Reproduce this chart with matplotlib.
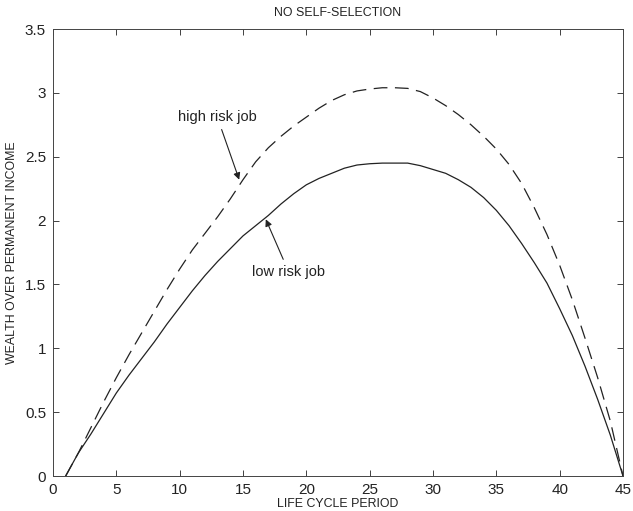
import matplotlib
matplotlib.use("Agg")
import matplotlib.pyplot as plt
import numpy as np

# ---- data ----
period = list(range(1, 46))
low_risk = [0.00, 0.18, 0.33, 0.49, 0.65, 0.79, 0.92, 1.05, 1.19, 1.32,
            1.45, 1.57, 1.68, 1.78, 1.88, 1.96, 2.04, 2.13, 2.21, 2.28,
            2.33, 2.37, 2.41, 2.435, 2.445, 2.45, 2.45, 2.45, 2.43, 2.40,
            2.37, 2.32, 2.26, 2.18, 2.08, 1.96, 1.82, 1.67, 1.51, 1.31,
            1.10, 0.86, 0.60, 0.32, 0.00]
high_risk = [0.00, 0.18, 0.38, 0.58, 0.77, 0.95, 1.12, 1.29, 1.46, 1.62,
             1.77, 1.90, 2.03, 2.17, 2.32, 2.46, 2.57, 2.66, 2.74, 2.81,
             2.88, 2.94, 2.985, 3.015, 3.03, 3.04, 3.04, 3.035, 3.01, 2.96,
             2.90, 2.83, 2.75, 2.66, 2.56, 2.44, 2.29, 2.10, 1.89, 1.65,
             1.38, 1.08, 0.77, 0.43, 0.00]
xticks = [0, 5, 10, 15, 20, 25, 30, 35, 40, 45]
yticks = [0, 0.5, 1, 1.5, 2, 2.5, 3, 3.5]
ytick_labels = ["0", "0.5", "1", "1.5", "2", "2.5", "3", "3.5"]

plt.rcParams['font.family'] = ['Liberation Sans', 'DejaVu Sans']

fig = plt.figure(figsize=(6.33, 5.11), dpi=100)
ax = fig.add_axes([53/633, 1 - 476/511, 570/633, 447/511])

col = '#222222'
ax.plot(period, low_risk, color=col, lw=0.9)
ax.plot(period, high_risk, color=col, lw=0.9, linestyle=(0, (11, 6)))

ax.set_xlim(0, 45)
ax.set_ylim(0, 3.5)
ax.set_xticks(xticks)
ax.set_xticklabels([str(t) for t in xticks])
ax.set_yticks(yticks)
ax.set_yticklabels(ytick_labels)
ax.tick_params(direction='in', length=4, width=0.6, top=True, right=True,
               labelsize=11, colors=col, pad=5)
for s in ax.spines.values():
    s.set_linewidth(0.7)
    s.set_color('#444444')

ax.text(0.5, 1.036, "NO SELF-SELECTION", transform=ax.transAxes,
        ha='center', va='center', fontsize=8.9, color=col)
ax.set_xlabel("LIFE CYCLE PERIOD", fontsize=8.9, color=col)
ax.xaxis.set_label_coords(0.5, -0.05)
ax.set_ylabel("WEALTH OVER PERMANENT INCOME", fontsize=8.9, color=col)
ax.yaxis.set_label_coords(-0.061, 0.5)

arrow = dict(arrowstyle='-|>', color=col, lw=0.8, mutation_scale=10,
             shrinkA=2, shrinkB=0)
ax.annotate("high risk job", xy=(14.7, 2.32), xytext=(12.97, 2.81),
            ha='center', va='center', fontsize=10.5, color=col,
            arrowprops=arrow)
ax.annotate("low risk job", xy=(16.8, 2.01), xytext=(18.6, 1.60),
            ha='center', va='center', fontsize=10.5, color=col,
            arrowprops=arrow)

fig.savefig("out.png", dpi=100)
